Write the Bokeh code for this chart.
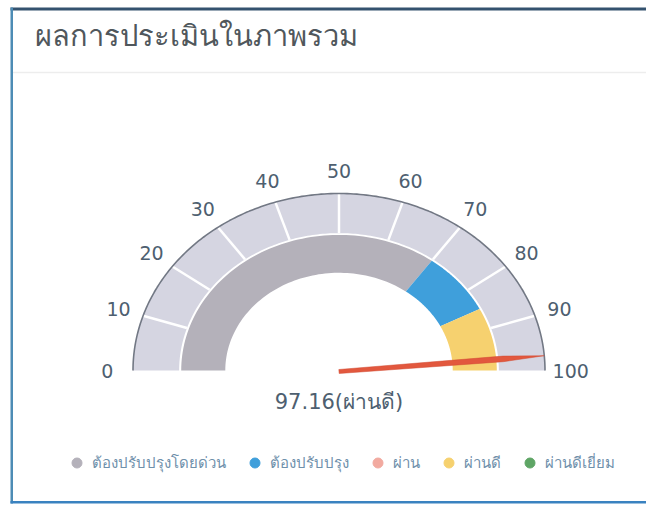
import numpy as np
from bokeh.plotting import figure
from bokeh.models import Range1d, Legend, LegendItem
from bokeh.core.properties import value
from bokeh.embed import file_html
from bokeh.resources import INLINE

# ---------------- data ----------------
title_text = "ผลการประเมินในภาพรวม"
tick_values = [0, 10, 20, 30, 40, 50, 60, 70, 80, 90, 100]
tick_labels = ["0", "10", "20", "30", "40", "50", "60", "70", "80", "90", "100"]
band_names = ["ต้องปรับปรุงโดยด่วน", "ต้องปรับปรุง", "ผ่าน", "ผ่านดี", "ผ่านดีเยี่ยม"]
band_start = [0, 70, 85, 85, 100]
band_end = [70, 85, 85, 100, 100]
band_colors = ["#b4b1ba", "#3f9fdb", "#f2aaa0", "#f6d16f", "#5ea565"]
score = 97.16
score_label = "ผ่านดี"

# ---------------- layout ----------------
W, H = 646, 505
SX, SY = 206.0, 177.0      # px per gauge unit (x, y)
CX, CY = 338.5, 370.0      # gauge centre in canvas px (from top-left)

def px(x, y):
    return (x - CX) / SX, (CY - y) / SY

p = figure(width=W, height=H, output_backend="svg", toolbar_location=None,
           x_range=Range1d(-CX / SX, (W - CX) / SX),
           y_range=Range1d(-(H - CY) / SY, CY / SY),
           min_border=0, min_border_left=0, min_border_right=0,
           min_border_top=0, min_border_bottom=0)
p.axis.visible = False
p.grid.visible = False
p.outline_line_color = None
p.background_fill_color = "white"
p.border_fill_color = "white"

def ang(v):
    return np.pi * (1 - np.asarray(v, dtype=float) / 100.0)

def arc_poly(v0, v1, r0, r1, n=80):
    t = np.linspace(ang(v0), ang(v1), n)
    xs = np.concatenate([r1 * np.cos(t), r0 * np.cos(t[::-1])])
    ys = np.concatenate([r1 * np.sin(t), r0 * np.sin(t[::-1])])
    return list(xs), list(ys)

R_OUT, R_MID_OUT = 1.0, 0.776
R_BAND_OUT, R_BAND_IN = 0.766, 0.552

# outer light band
ox, oy = arc_poly(0, 100, R_MID_OUT, R_OUT, 200)
p.patch(ox, oy, fill_color="#d5d5e1", line_color=None)

# separators every 10
sep = np.array(tick_values[1:-1])
p.segment(x0=R_MID_OUT * np.cos(ang(sep)), y0=R_MID_OUT * np.sin(ang(sep)),
          x1=R_OUT * np.cos(ang(sep)), y1=R_OUT * np.sin(ang(sep)),
          line_color="white", line_width=2.5)

# outer arc outline
t = np.linspace(ang(0), ang(100), 200)
p.line(R_OUT * np.cos(t), R_OUT * np.sin(t), line_color="#727884", line_width=1.6)

# coloured band
for s, e, c in zip(band_start, band_end, band_colors):
    if e > s:
        bx, by = arc_poly(s, e, R_BAND_IN, R_BAND_OUT)
        p.patch(bx, by, fill_color=c, line_color=None)

# tick labels
tv = np.array(tick_values)
p.text(x=1.125 * np.cos(ang(tv)), y=1.125 * np.sin(ang(tv)), text=tick_labels,
       text_align="center", text_baseline="middle", text_font=value("DejaVu Sans"),
       text_font_size="19px", text_color="#4e5f70")

# needle
th = float(ang(score))
d = np.array([np.cos(th), np.sin(th)])
nrm = np.array([-np.sin(th) * SY / SX, np.cos(th)])
nrm = nrm / np.hypot(nrm[0] * SX, nrm[1] * SY)  # 1 px perpendicular
base = np.array([0.0, -1.0 / SY])
pts = [base + 2.0 * nrm, base + 0.8 * d + 2.8 * nrm, base + 1.0 * d,
       base + 0.8 * d - 2.8 * nrm, base - 2.0 * nrm]
p.patch([q[0] for q in pts], [q[1] for q in pts], fill_color="#e2583e",
        line_color="#d04a32", line_width=0.5)

# value label
p.text(x=[0], y=[-0.18], text=[f"{score}({score_label})"],
       text_align="center", text_baseline="middle", text_font=value("DejaVu Sans"),
       text_font_size="21px", text_color="#4e5f70")

# title
tx, ty = px(34, 34)
p.text(x=[tx], y=[ty], text=[title_text], text_align="left", text_baseline="middle",
       text_font=value("Noto Sans"), text_font_size="29px", text_color="#50575c")

# card decorations
lx0, ly0 = px(12, 72)
lx1, _ = px(W, 72)
p.line([lx0, lx1], [ly0, ly0], line_color="#ededed", line_width=1.5)
l, tp = px(10, 7)
r, bt = px(W, 10)
p.quad(left=[l], right=[r], top=[tp], bottom=[bt], fill_color="#34526f", line_color=None)
l, tp = px(10, 7)
r, bt = px(12.5, 503)
p.quad(left=[l], right=[r], top=[tp], bottom=[bt], fill_color="#4d8cb5", line_color=None)
l, tp = px(10, 500.5)
r, bt = px(W, 503)
p.quad(left=[l], right=[r], top=[tp], bottom=[bt], fill_color="#3a82c0", line_color=None)

# legend
items = []
for name, c in zip(band_names, band_colors):
    rr = p.scatter(x=[np.nan], y=[np.nan], size=11, fill_color=c, line_color=c)
    items.append(LegendItem(label=name, renderers=[rr]))
leg = Legend(items=items, orientation="horizontal", location=(64, 30),
             border_line_color=None, background_fill_alpha=0,
             label_text_font="Noto Sans", label_text_font_size="15px",
             label_text_color="#6f90ab", glyph_width=25, glyph_height=25,
             label_height=25, spacing=16, padding=0, margin=0, label_standoff=3)
p.add_layout(leg)

open("out.html", "w").write(file_html(p, INLINE))
